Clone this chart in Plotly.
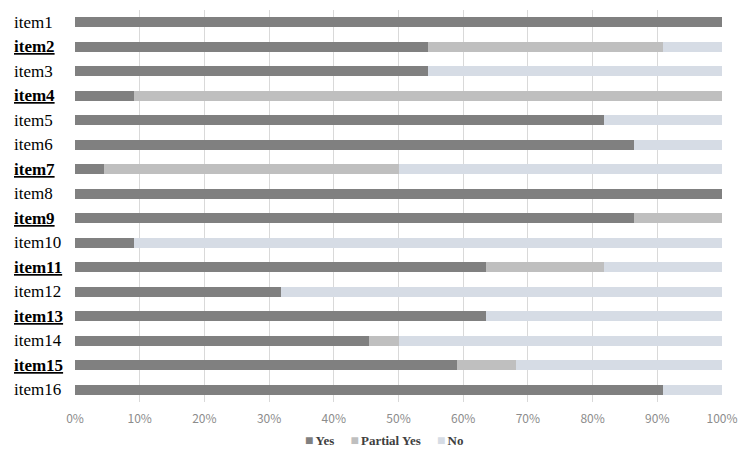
import plotly.graph_objects as go

items = [f"item{i}" for i in range(1, 17)]
emphasized = {"item2", "item4", "item7", "item9", "item11", "item13", "item15"}
yes = [100, 54.5, 54.5, 9.1, 81.8, 86.4, 4.5, 100, 86.4, 9.1, 63.6, 31.8, 63.6, 45.5, 59.1, 90.9]
partial = [0, 36.4, 0, 90.9, 0, 0, 45.5, 0, 13.6, 0, 18.2, 0, 0, 4.5, 9.1, 0]
no = [0, 9.1, 45.5, 0, 18.2, 13.6, 50, 0, 0, 90.9, 18.2, 68.2, 36.4, 50, 31.8, 9.1]
ticks = [0, 10, 20, 30, 40, 50, 60, 70, 80, 90, 100]
series_names = ["Yes", "Partial Yes", "No"]
series_colors = ["#808080", "#BFBFBF", "#D6DCE5"]

SERIF = "Liberation Serif"

fig = go.Figure()
for name, vals, color in zip(series_names, [yes, partial, no], series_colors):
    fig.add_trace(go.Bar(y=items, x=vals, name=name, orientation="h",
                         marker=dict(color=color, line=dict(width=0)),
                         hoverinfo="x+name", showlegend=False))

for it in items:
    txt = f"<b><u>{it}</u></b>" if it in emphasized else it
    fig.add_annotation(x=-0.0974, xref="paper", y=it, yref="y", text=txt,
                       xanchor="left", yanchor="middle", showarrow=False,
                       font=dict(family=SERIF, size=17, color="#000000"))

# legend drawn as text with coloured square glyphs
legend_parts = [
    f'<span style="color:{c};font-size:14px">■</span><span style="font-size:8px">&nbsp;</span><b>{n}</b>'
    for n, c in zip(series_names, series_colors)
]
fig.add_annotation(x=(384 - 75) / 647, xref="paper", y=(402 - 440) / 392, yref="paper",
                   text="&nbsp;&nbsp;&nbsp;&nbsp;&nbsp;".join(legend_parts),
                   xanchor="center", yanchor="middle", showarrow=False,
                   font=dict(family=SERIF, size=13, color="#404040"))

fig.update_layout(
    barmode="stack", bargap=0.59,
    width=750, height=453,
    margin=dict(l=75, r=28, t=10, b=51, autoexpand=False),
    paper_bgcolor="white", plot_bgcolor="white",
    showlegend=False,
    xaxis=dict(range=[0, 100], tickvals=ticks, ticktext=[f"{t}%" for t in ticks],
               showgrid=True, gridcolor="#D9D9D9", gridwidth=1, zeroline=False,
               tickfont=dict(family="Noto Sans CJK JP", size=12, color="#8C8C8C"),
               ticks="", showline=False, automargin=False, ticklabelstandoff=8),
    yaxis=dict(categoryorder="array", categoryarray=items, autorange="reversed",
               showticklabels=False, ticks="", showgrid=False, showline=False,
               automargin=False),
)
fig.write_html("out.html")
